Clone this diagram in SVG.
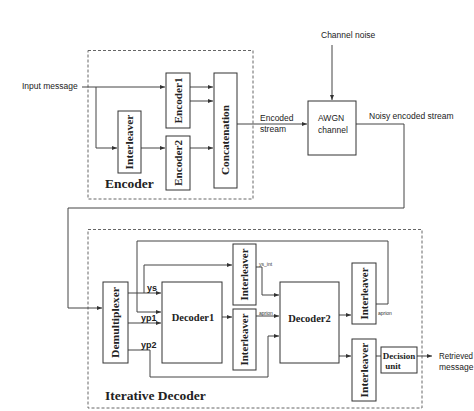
<svg xmlns="http://www.w3.org/2000/svg" width="474" height="411" viewBox="0 0 474 411">
<style>
.bg{fill:#fff}
.box{fill:#fff;stroke:#333;stroke-width:1}
.dbox{fill:none;stroke:#666;stroke-width:1;stroke-dasharray:3,2}
.ln{fill:none;stroke:#444;stroke-width:1}
.sans{font-family:"Liberation Sans",Arial,sans-serif;font-size:8.5px;fill:#222}
.sb{font-family:"Liberation Sans",Arial,sans-serif;font-size:9px;font-weight:bold;fill:#222}
.tiny{font-family:"Liberation Sans",Arial,sans-serif;font-size:5px;fill:#333}
.ser{font-family:"Liberation Serif","Times New Roman",serif;font-weight:bold;fill:#222}
.big{font-size:13.5px}
.mid{font-size:10.5px}
</style>
<defs>
<marker id="ah" markerWidth="6" markerHeight="6" refX="5" refY="3" orient="auto" markerUnits="userSpaceOnUse">
<path d="M0,1 L5,3 L0,5 Z" fill="#333"/>
</marker>
</defs>
<rect class="bg" x="0" y="0" width="474" height="411"/>

<g id="encoder-frame">
<rect class="dbox" x="88" y="50.5" width="165" height="148.5"/>
<text class="ser big" x="105" y="188">Encoder</text>
</g>
<g id="decoder-frame">
<rect class="dbox" x="88" y="229.5" width="334" height="178.5"/>
<text class="ser big" x="105" y="400">Iterative Decoder</text>
</g>

<g id="connectors">
<text class="sans" x="22" y="89">Input message</text>
<path class="ln" d="M82,87 H165" marker-end="url(#ah)"/>
<path class="ln" d="M96,87 V148 H117" marker-end="url(#ah)"/>
<path class="ln" d="M141,148 H165" marker-end="url(#ah)"/>
<path class="ln" d="M190,87 H213" marker-end="url(#ah)"/>
<path class="ln" d="M190,101 H213" marker-end="url(#ah)"/>
<path class="ln" d="M190,148 H213" marker-end="url(#ah)"/>
<path class="ln" d="M237,124 H307" marker-end="url(#ah)"/>
<path class="ln" d="M332,45 V100" marker-end="url(#ah)"/>
<path class="ln" d="M356,124 H404 V208 H68 V308 H102" marker-end="url(#ah)"/>
<path class="ln" d="M128,293 H161" marker-end="url(#ah)"/>
<path class="ln" d="M144,293 V265 H232" marker-end="url(#ah)"/>
<path class="ln" d="M128,323 H161" marker-end="url(#ah)"/>
<path class="ln" d="M128,350 H150 V377 H268 V336 H279" marker-end="url(#ah)"/>
<path class="ln" d="M222,317 H232" marker-end="url(#ah)"/>
<path class="ln" d="M256,267 H262 V295 H279" marker-end="url(#ah)"/>
<path class="ln" d="M256,316 H279" marker-end="url(#ah)"/>
<path class="ln" d="M339,315 H351" marker-end="url(#ah)"/>
<path class="ln" d="M339,356 H351" marker-end="url(#ah)"/>
<path class="ln" d="M376,304 H388 V241 H137 V312 H161" marker-end="url(#ah)"/>
<path class="ln" d="M376,356 H381"/>
<path class="ln" d="M417,356 H432" marker-end="url(#ah)"/>
<text class="sans" x="260" y="121">Encoded</text>
<text class="sans" x="260" y="132">stream</text>
<text class="sans" x="321" y="38">Channel noise</text>
<text class="sans" x="369" y="119">Noisy encoded stream</text>
<text class="sb" x="147" y="291">ys</text>
<text class="sb" x="141" y="321">yp1</text>
<text class="sb" x="141" y="348">yp2</text>
<text class="tiny" x="259" y="266">ys_int</text>
<text class="tiny" x="259" y="315">aprion</text>
<text class="tiny" x="378" y="315">aprion</text>
<text class="sans" x="439" y="359" font-size="8" textLength="34" lengthAdjust="spacingAndGlyphs">Retrieved</text>
<text class="sans" x="439" y="370" font-size="8">message</text>
</g>

<g id="enc-interleaver">
<rect class="box" x="118" y="111" width="23" height="62"/>
<text class="ser mid" transform="translate(129.5,142) rotate(-90)" text-anchor="middle" dy="3.6" textLength="55" lengthAdjust="spacingAndGlyphs">Interleaver</text>
</g>
<g id="encoder1">
<rect class="box" x="166" y="73" width="24" height="55"/>
<text class="ser mid" transform="translate(178,100.5) rotate(-90)" text-anchor="middle" dy="3.6" textLength="46" lengthAdjust="spacingAndGlyphs">Encoder1</text>
</g>
<g id="encoder2">
<rect class="box" x="166" y="136" width="24" height="54"/>
<text class="ser mid" transform="translate(178,163) rotate(-90)" text-anchor="middle" dy="3.6" textLength="46" lengthAdjust="spacingAndGlyphs">Encoder2</text>
</g>
<g id="concatenation">
<rect class="box" x="214" y="73" width="23" height="115"/>
<text class="ser mid" transform="translate(225.5,140) rotate(-90)" text-anchor="middle" dy="3.6" textLength="70" lengthAdjust="spacingAndGlyphs">Concatenation</text>
</g>
<g id="awgn">
<rect class="box" x="308" y="101" width="48" height="54" stroke="#555"/>
<text class="sans" x="318" y="121">AWGN</text>
<text class="sans" x="318" y="133">channel</text>
</g>

<g id="demultiplexer">
<rect class="box" x="103" y="282" width="25" height="81"/>
<text class="ser mid" transform="translate(115.5,322.5) rotate(-90)" text-anchor="middle" dy="3.6" textLength="71" lengthAdjust="spacingAndGlyphs">Demultiplexer</text>
</g>
<g id="decoder1">
<rect class="box" x="162" y="282" width="60" height="81"/>
<text class="ser" font-size="10.5" x="193" y="321" text-anchor="middle">Decoder1</text>
</g>
<g id="dec-interleaver-1">
<rect class="box" x="233" y="244" width="23" height="61"/>
<text class="ser mid" transform="translate(244.5,274.5) rotate(-90)" text-anchor="middle" dy="3.6" textLength="52" lengthAdjust="spacingAndGlyphs">Interleaver</text>
</g>
<g id="dec-interleaver-2">
<rect class="box" x="233" y="309" width="23" height="61"/>
<text class="ser mid" transform="translate(244.5,339.5) rotate(-90)" text-anchor="middle" dy="3.6" textLength="52" lengthAdjust="spacingAndGlyphs">Interleaver</text>
</g>
<g id="decoder2">
<rect class="box" x="280" y="282" width="59" height="81"/>
<text class="ser" font-size="10.5" x="309.5" y="322" text-anchor="middle">Decoder2</text>
</g>
<g id="dec-interleaver-3">
<rect class="box" x="352" y="263" width="24" height="61"/>
<text class="ser mid" transform="translate(364,293.5) rotate(-90)" text-anchor="middle" dy="3.6" textLength="52" lengthAdjust="spacingAndGlyphs">Interleaver</text>
</g>
<g id="dec-interleaver-4">
<rect class="box" x="352" y="339" width="24" height="62"/>
<text class="ser mid" transform="translate(364,370) rotate(-90)" text-anchor="middle" dy="3.6" textLength="55" lengthAdjust="spacingAndGlyphs">Interleaver</text>
</g>
<g id="decision-unit">
<rect class="box" x="381" y="347" width="36" height="26" stroke="#888"/>
<text class="ser" font-size="9" x="399" y="359" text-anchor="middle">Decision</text>
<text class="ser" font-size="9" x="393" y="369" text-anchor="middle">unit</text>
</g>
</svg>
